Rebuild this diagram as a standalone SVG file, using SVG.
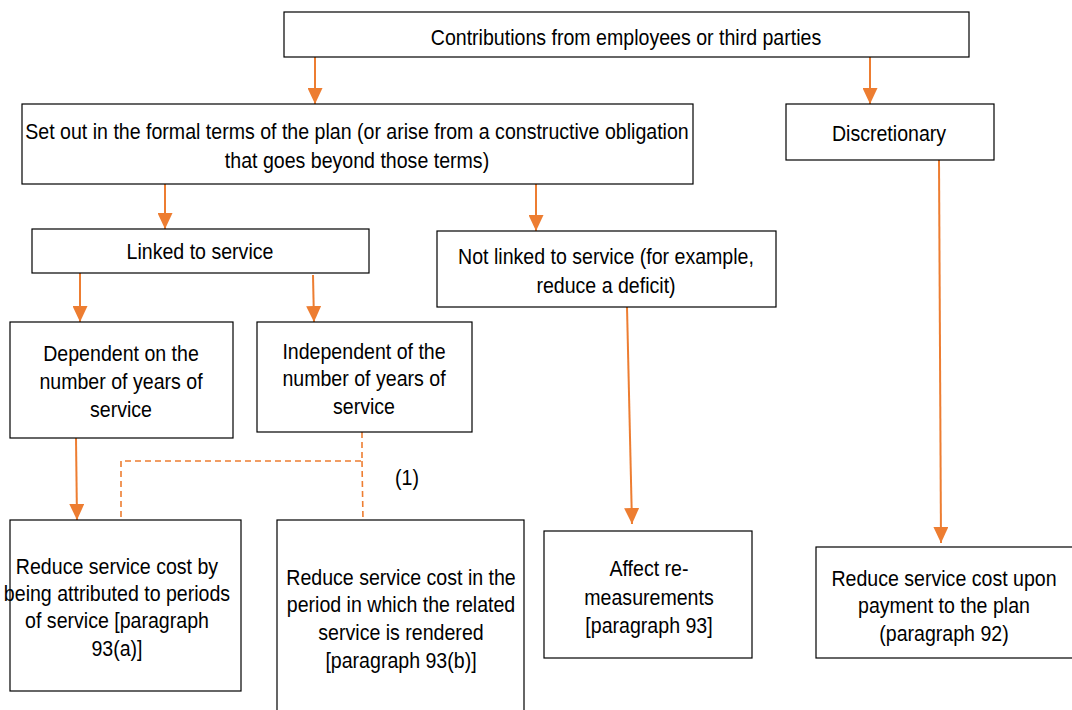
<svg xmlns="http://www.w3.org/2000/svg" width="1072" height="710" viewBox="0 0 1072 710">
  <style>
    .box { fill: #ffffff; stroke: #000000; stroke-width: 1.2; }
    .lbl { font-family: "Liberation Sans", Arial, sans-serif; font-size: 22px; fill: #000000; text-anchor: middle; }
    .flow { stroke: #ED7D31; stroke-width: 2; fill: none; }
    .dash { stroke: #ED7D31; stroke-width: 1.6; fill: none; stroke-dasharray: 6 4; }
  </style>
  <defs>
    <marker id="arrow" viewBox="0 0 16 15" refX="16" refY="7.5" markerWidth="16" markerHeight="15" markerUnits="userSpaceOnUse" orient="auto">
      <path d="M0,0 L16,7.5 L0,15 Z" fill="#ED7D31"/>
    </marker>
  </defs>
  <rect width="1072" height="710" fill="#ffffff"/>

  <!-- connectors -->
  <g id="connectors">
    <line class="flow" x1="315" y1="57" x2="315" y2="104" marker-end="url(#arrow)"/>
    <line class="flow" x1="870" y1="57" x2="870" y2="104" marker-end="url(#arrow)"/>
    <line class="flow" x1="165" y1="184" x2="165" y2="229" marker-end="url(#arrow)"/>
    <line class="flow" x1="536" y1="184" x2="536" y2="231" marker-end="url(#arrow)"/>
    <line class="flow" x1="80" y1="270" x2="80" y2="322" marker-end="url(#arrow)"/>
    <line class="flow" x1="313" y1="275" x2="314" y2="322" marker-end="url(#arrow)"/>
    <line class="flow" x1="76" y1="438" x2="77" y2="520" marker-end="url(#arrow)"/>
    <line class="flow" x1="627" y1="307" x2="632" y2="524" marker-end="url(#arrow)"/>
    <line class="flow" x1="939" y1="160" x2="941" y2="543" marker-end="url(#arrow)"/>
    <polyline class="dash" points="362,432 362,461 121,461 121,520"/>
    <line class="dash" x1="362" y1="461" x2="363" y2="520"/>
    <text class="lbl" transform="translate(407,485) scale(0.89,1)">(1)</text>
  </g>

  <g id="contributions">
    <rect class="box" x="284" y="12" width="685" height="45"/>
    <text class="lbl" transform="translate(626,45) scale(0.89,1)">Contributions from employees or third parties</text>
  </g>

  <g id="formal-terms">
    <rect class="box" x="22" y="104" width="671" height="80"/>
    <text class="lbl" transform="translate(357,139) scale(0.89,1)">Set out in the formal terms of the plan (or arise from a constructive obligation</text>
    <text class="lbl" transform="translate(357,168) scale(0.89,1)">that goes beyond those terms)</text>
  </g>

  <g id="discretionary">
    <rect class="box" x="786" y="104" width="208" height="56"/>
    <text class="lbl" transform="translate(889,141) scale(0.89,1)">Discretionary</text>
  </g>

  <g id="linked">
    <rect class="box" x="32" y="229" width="337" height="44"/>
    <text class="lbl" transform="translate(200,259) scale(0.89,1)">Linked to service</text>
  </g>

  <g id="not-linked">
    <rect class="box" x="437" y="231" width="339" height="76"/>
    <text class="lbl" transform="translate(606,264) scale(0.89,1)">Not linked to service (for example,</text>
    <text class="lbl" transform="translate(606,293) scale(0.89,1)">reduce a deficit)</text>
  </g>

  <g id="dependent">
    <rect class="box" x="10" y="322" width="223" height="116"/>
    <text class="lbl" transform="translate(121,361) scale(0.89,1)">Dependent on the</text>
    <text class="lbl" transform="translate(121,389) scale(0.89,1)">number of years of</text>
    <text class="lbl" transform="translate(121,417) scale(0.89,1)">service</text>
  </g>

  <g id="independent">
    <rect class="box" x="257" y="322" width="215" height="110"/>
    <text class="lbl" transform="translate(364,359) scale(0.89,1)">Independent of the</text>
    <text class="lbl" transform="translate(364,386) scale(0.89,1)">number of years of</text>
    <text class="lbl" transform="translate(364,414) scale(0.89,1)">service</text>
  </g>

  <g id="attributed">
    <rect class="box" x="10" y="520" width="231" height="171"/>
    <text class="lbl" transform="translate(117,574) scale(0.89,1)">Reduce service cost by</text>
    <text class="lbl" transform="translate(117,601) scale(0.89,1)">being attributed to periods</text>
    <text class="lbl" transform="translate(117,628) scale(0.89,1)">of service [paragraph</text>
    <text class="lbl" transform="translate(117,656) scale(0.89,1)">93(a)]</text>
  </g>

  <g id="rendered">
    <rect class="box" x="277" y="520" width="247" height="200"/>
    <text class="lbl" transform="translate(401,585) scale(0.89,1)">Reduce service cost in the</text>
    <text class="lbl" transform="translate(401,612) scale(0.89,1)">period in which the related</text>
    <text class="lbl" transform="translate(401,640) scale(0.89,1)">service is rendered</text>
    <text class="lbl" transform="translate(401,668) scale(0.89,1)">[paragraph 93(b)]</text>
  </g>

  <g id="remeasurements">
    <rect class="box" x="544" y="531" width="208" height="127"/>
    <text class="lbl" transform="translate(649,576) scale(0.89,1)">Affect re-</text>
    <text class="lbl" transform="translate(649,605) scale(0.89,1)">measurements</text>
    <text class="lbl" transform="translate(649,633) scale(0.89,1)">[paragraph 93]</text>
  </g>

  <g id="payment">
    <rect class="box" x="816" y="547" width="270" height="111"/>
    <text class="lbl" transform="translate(944,586) scale(0.89,1)">Reduce service cost upon</text>
    <text class="lbl" transform="translate(944,613) scale(0.89,1)">payment to the plan</text>
    <text class="lbl" transform="translate(944,641) scale(0.89,1)">(paragraph 92)</text>
  </g>
</svg>
